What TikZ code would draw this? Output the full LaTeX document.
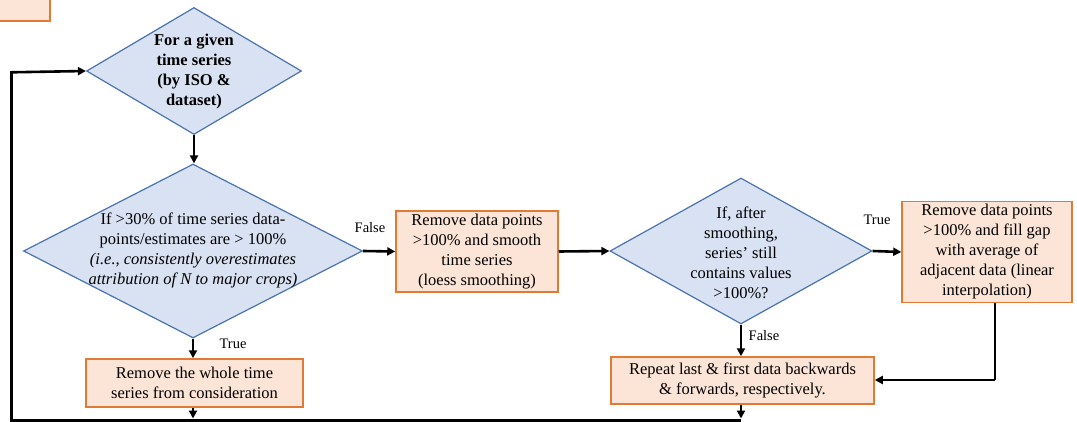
\documentclass[tikz,border=0pt]{standalone}
\usepackage{fontspec}
\setmainfont{Liberation Serif}
\usetikzlibrary{shapes.geometric,arrows.meta,calc}
\definecolor{dfill}{HTML}{D9E2F3}
\definecolor{ddraw}{HTML}{4A72B0}
\definecolor{bfill}{HTML}{FCE4D6}
\definecolor{bdraw}{HTML}{E07A35}
\tikzset{
  dia/.style={shape=diamond, draw=ddraw, fill=dfill, line width=1.2pt, inner sep=0pt},
  txt/.style={align=center, font=\fontsize{16.5}{20}\selectfont, inner sep=0pt},
  procbox/.style={draw=bdraw, fill=bfill, line width=1.5pt, align=center,
    font=\fontsize{16.5}{20}\selectfont, inner sep=0pt},
  lbl/.style={font=\fontsize{14.5}{16}\selectfont, inner sep=0pt},
  conn/.style={line width=2.6pt, -{Triangle[length=8pt,width=8pt]}},
  plain/.style={line width=2.6pt},
}
\begin{document}
\begin{tikzpicture}[x=1pt,y=-1pt]
\useasboundingbox (0,0) rectangle (1077,422);
% partial box at top-left
\node[procbox, minimum width=60pt, minimum height=30pt] (prev) at (20,6) {};
% diamonds
\node[dia, minimum width=215pt, minimum height=127pt] (d1) at (194,71) {};
\node[txt, font=\fontsize{16.5}{20}\selectfont\bfseries] (t1) at (194,72) {For a given\\time series\\(by ISO \&\\dataset)};
\node[dia, minimum width=339pt, minimum height=174pt] (d2) at (193,251) {};
\node[txt] (t2) at (193,250.5) {If >30\% of time series data-\\points/estimates are > 100\%\\\textit{(i.e., consistently overestimates}\\\textit{attribution of N to major crops)}};
\node[dia, minimum width=262pt, minimum height=146pt] (d3) at (741,251) {};
\node[txt] (t3) at (741,253) {If, after\\smoothing,\\series’ still\\contains values\\>100\%?};
% boxes
\node[procbox, minimum width=162pt, minimum height=81pt] (b2) at (477,251.5) {Remove data points\\>100\% and smooth\\time series\\(loess smoothing)};
\node[procbox, minimum width=170pt, minimum height=101pt] (b4) at (987,252) {Remove data points\\>100\% and fill gap\\with average of\\adjacent data (linear\\interpolation)};
\node[procbox, minimum width=217pt, minimum height=48pt] (b1) at (194.5,383) {Remove the whole time\\series from consideration};
\node[procbox, minimum width=263pt, minimum height=47pt] (b5) at (742.5,380.5) {Repeat last \& first data backwards\\\& forwards, respectively.};
% helper coordinates
\coordinate (bl) at (11.5,420.5);
\coordinate (b1d) at (193,420.5);
\coordinate (b5d) at (741,420.5);
\coordinate (tl) at (11.5,71);
\coordinate (b4d) at (995,380);
% connectors
\draw[conn] (d1.south) -- (d1.south |- d2.north);
\draw[conn] (d2.east) -- (b2.west);
\draw[conn] (b2.east) -- (d3.west);
\draw[conn] (d3.east) -- (b4.west);
\draw[conn] (d2.south) -- (d2.south |- b1.north);
\draw[conn] (d3.south) -- (d3.south |- b5.north);
\draw[plain] (b4.south -| b4d) -- (b4d);
\draw[conn] (b4d) -- (b5.east |- b4d);
\draw[conn] (b1.south -| b1d) -- ($(b1d)+(0,-2)$);
\draw[conn] (b5.south -| b5d) -- ($(b5d)+(0,-2)$);
\draw[line width=2.6pt] (b5d) -- (bl) -- (tl);
\draw[conn] ($(tl)+(0,1.3)$) -- (d1.west);
% labels
\node[lbl] (lf1) at (370,228) {False};
\node[lbl] (lt1) at (233,344) {True};
\node[lbl] (lt2) at (877,220) {True};
\node[lbl] (lf2) at (764,336) {False};
\end{tikzpicture}
\end{document}
